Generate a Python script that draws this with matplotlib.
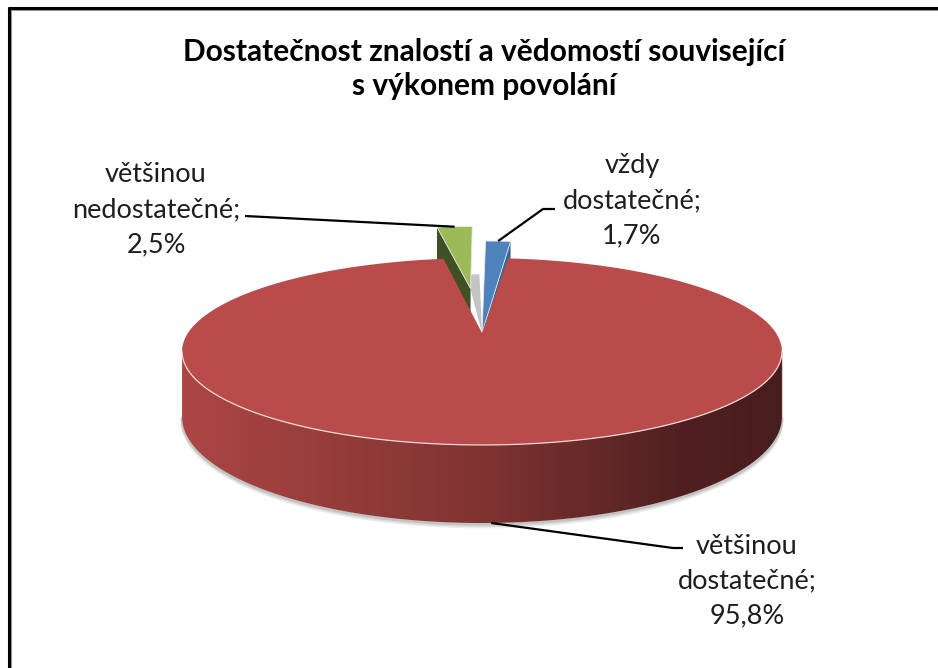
import numpy as np
import matplotlib
matplotlib.use("Agg")
import matplotlib.pyplot as plt
from matplotlib.patches import Polygon

# ---------------- data ----------------
title = "Dostatečnost znalostí a vědomostí související\ns výkonem povolání"
categories = ["vždy dostatečné", "většinou dostatečné", "většinou nedostatečné"]
values = [1.7, 95.8, 2.5]
colors_top = ["#4F81BD", "#B94B4A", "#9BBB59"]
colors_face = ["#3A6597", "#7A2E2D", "#3F5024"]
explode = [0.285, 0.0, 0.55]
apex_shift = [0.0, 0.0, 1.0]   # how much of the explosion moves the slice tip

# ---------------- layout ----------------
W, H = 938, 668
fig = plt.figure(figsize=(W / 100, H / 100), dpi=100)
ax = fig.add_axes([0, 0, 1, 1])
ax.set_xlim(0, W)
ax.set_ylim(H, 0)
ax.axis("off")

FONT = ["Lato", "DejaVu Sans"]
TXT = "#1E1E1E"

# pseudo-3D projection parameters (pixels)
cx, cy = 482.0, 333.0
A, B, K, D = 294.0, 89.8, 0.198, 62.6


def proj(u, v, z=0.0):
    s = 1.0 / (1.0 + K * v)
    return cx + A * u * s, cy - B * v * s + z * D * s


def arc(t1, t2, off=(0.0, 0.0), z=0.0, n=300):
    th = np.radians(np.linspace(t1, t2, n))
    return proj(off[0] + np.sin(th), off[1] + np.cos(th), z)


fr = np.array(values) / np.sum(values)
ends = np.cumsum(fr) * 360.0
starts = ends - fr * 360.0
mids = (starts + ends) / 2.0

x0, y0 = proj(0.0, 0.0)

# light grey sliver visible in the notch between the small slices
g1 = proj(-0.06, 0.75)
g2 = proj(-0.01, 0.75)
ax.add_patch(Polygon([[x0, y0], g1, g2], closed=True, fc="#C4C4C4",
                     ec="none", zorder=1.5))

# ---------- small exploded slices (behind) ----------
anchors = {}
for i in range(len(values)):
    if explode[i] == 0:
        continue
    t1, t2 = starts[i], ends[i]
    m = np.radians(mids[i])
    off = (explode[i] * np.sin(m), explode[i] * np.cos(m))
    tip = (off[0] * apex_shift[i], off[1] * apex_shift[i])
    ax0, ay0 = proj(*tip)
    ax1, ay1 = proj(tip[0], tip[1], 1.0)
    t_face = t2 if mids[i] < 180 else t1
    th = np.radians(t_face)
    ox0, oy0 = proj(off[0] + np.sin(th), off[1] + np.cos(th))
    ox1, oy1 = proj(off[0] + np.sin(th), off[1] + np.cos(th), 1.0)
    ax.add_patch(Polygon([[ax0, ay0], [ox0, oy0], [ox1, oy1], [ax1, ay1]],
                         closed=True, fc=colors_face[i], ec="none", zorder=2))
    xs, ys = arc(t1, t2, off)
    pts = np.vstack([[ax0, ay0], np.column_stack([xs, ys])])
    ax.add_patch(Polygon(pts, closed=True, fc=colors_top[i], ec="#EAEAEA",
                         lw=0.6, zorder=3))
    mx, my = proj(off[0] + np.sin(m), off[1] + np.cos(m))
    anchors[i] = (mx, my)

# ---------- big slice ----------
i = 1
t1, t2 = starts[i], ends[i]
vis1 = np.degrees(np.arccos(-K))          # silhouette angles
vis2 = 360.0 - vis1
s1, s2 = max(t1, vis1), min(t2, vis2)
xt, yt = arc(s1, s2)
xb, yb = arc(s1, s2, z=1.0)
side_pts = np.vstack([np.column_stack([xt, yt]), np.column_stack([xb, yb])[::-1]])

for dy, c in [(4, "#EDEDED"), (2.5, "#DADADA"), (1.2, "#C4C4C4")]:
    ax.plot(xb, yb + dy, color=c, lw=2.0, zorder=3.5, solid_capstyle="round")

side = Polygon(side_pts, closed=True, fc="none", ec="none", zorder=4)
ax.add_patch(side)
stops_x = np.array([183, 380, 480, 600, 680, 782])
stops_c = np.array([[172, 70, 68], [142, 58, 56], [128, 52, 50],
                    [100, 40, 40], [80, 32, 32], [72, 29, 29]]) / 255.0
gx = np.linspace(xt.min(), xt.max(), 600)
grad = np.stack([np.interp(gx, stops_x, stops_c[:, c]) for c in range(3)], axis=-1)
img = ax.imshow(grad[None, :, :], extent=[gx[0], gx[-1], yb.max() + 2, yt.min() - 2],
                aspect="auto", zorder=4, interpolation="bilinear")
img.set_clip_path(side)

xs, ys = arc(t1, t2)
top_pts = np.vstack([[x0, y0], np.column_stack([xs, ys])])
ax.add_patch(Polygon(top_pts, closed=True, fc=colors_top[i], ec="none", zorder=5))
ax.plot(xt, yt, color="#F0D8D8", lw=0.9, zorder=5.5)
ax.plot([xt[0], xb[0]], [yt[0], yb[0]], color="#E0C0C0", lw=0.6, zorder=5.5)
mr = np.radians(mids[i])
anchors[i] = proj(np.sin(mr), np.cos(mr), 1.0)

# ---------- labels and leader lines ----------
label_pos = {0: (632, 201), 1: (747, 581), 2: (156, 210)}
leader_knee = {0: [(543, 209), (555, 209)], 1: [(673, 548), (683, 548)],
               2: [(245, 216)]}
for j in range(len(values)):
    lab = categories[j].replace(" ", "\n") + ";\n" + \
        f"{values[j]:.1f}".replace(".", ",") + "%"
    lx, ly = label_pos[j]
    ax.text(lx, ly, lab, ha="center", va="center", fontsize=19.5, color=TXT,
            family=FONT, linespacing=1.5, zorder=7)
    sx, sy = anchors[j]
    pts = [(sx, sy)] + leader_knee[j]
    ax.plot([p[0] for p in pts], [p[1] for p in pts], color="black", lw=1.6,
            zorder=6, solid_capstyle="butt")

# ---------- title ----------
ax.text(484, 69, title, ha="center", va="center", fontsize=21.5, fontweight="bold",
        color="black", family=FONT, linespacing=1.22, zorder=7)

# ---------- frame (only top and left visible) ----------
ax.plot([8.5, W], [10, 10], color="#9A9A9A", lw=0.8, zorder=8)
ax.plot([10.5, 10.5], [8.5, H], color="#9A9A9A", lw=0.8, zorder=8)
ax.plot([8, W], [8, 8], color="black", lw=2.2, zorder=9, solid_capstyle="butt")
ax.plot([9, 9], [7, H], color="black", lw=2.2, zorder=9, solid_capstyle="butt")

fig.savefig("out.png", dpi=100)
